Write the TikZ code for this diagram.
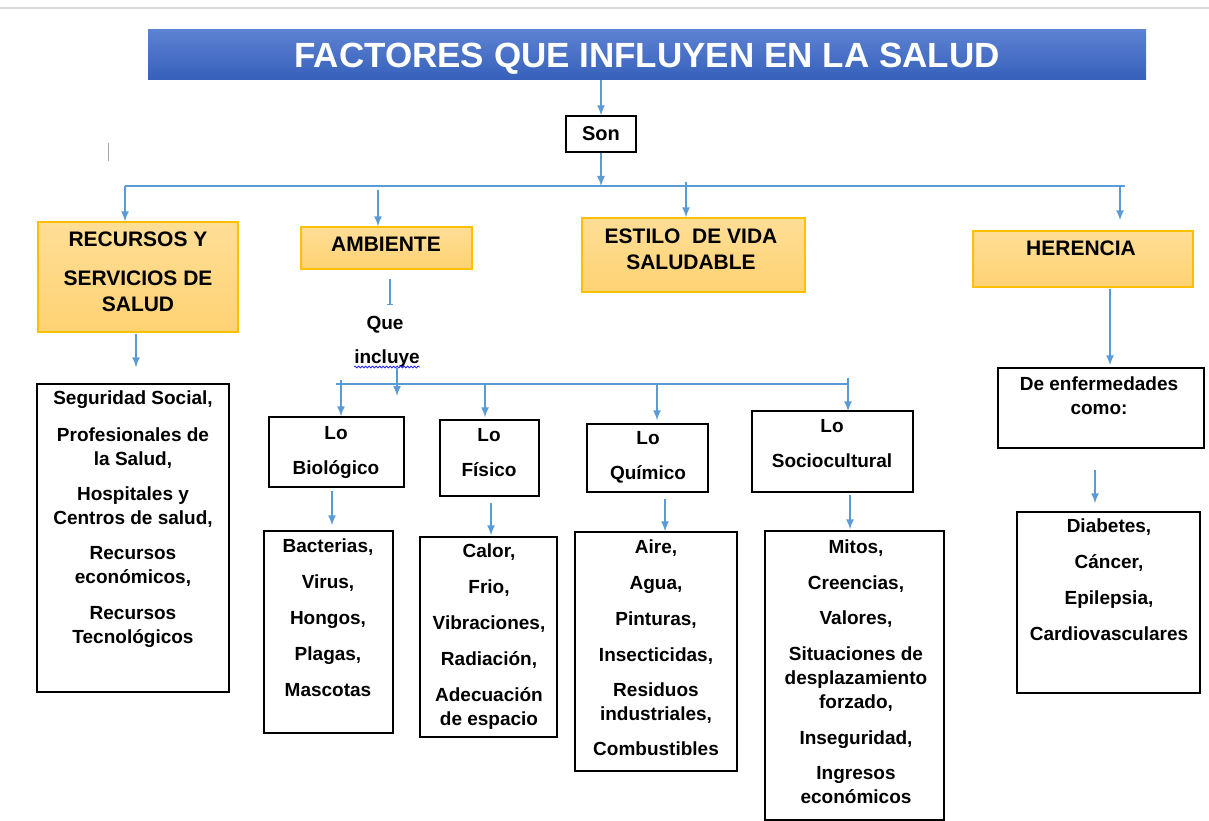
\documentclass[tikz,border=0pt]{standalone}
\usepackage{fontspec}
\setmainfont{Liberation Sans}
\usetikzlibrary{arrows.meta,decorations.pathmorphing}
\definecolor{ablue}{RGB}{91,155,213}
\definecolor{ttop}{RGB}{92,130,210}
\definecolor{tbot}{RGB}{54,96,186}
\definecolor{otop}{RGB}{254,222,150}
\definecolor{obot}{RGB}{255,210,115}
\definecolor{oedge}{RGB}{255,192,0}
\tikzset{
  arr/.style={draw=ablue, line width=1.5pt, -{Latex[length=10pt,width=8pt]}},
  ln/.style={draw=ablue, line width=1.5pt},
  obox/.style={draw=oedge, line width=1.4pt, top color=otop, bottom color=obot, inner sep=0pt},
  kbox/.style={draw=black, line width=1.4pt, fill=white, inner sep=0pt},
  htxt/.style={font=\fontsize{21}{26}\selectfont\bfseries, align=center, inner sep=0pt, anchor=north},
  btxt/.style={font=\fontsize{19}{24}\selectfont\bfseries, align=center, inner sep=0pt, anchor=north},
}
\begin{document}
\begin{tikzpicture}[x=1pt,y=-1pt]
\useasboundingbox (0,0) rectangle (1209,821);
\fill[white] (0,0) rectangle (1209,821);
\draw[gray!30, line width=2pt] (0,8) -- (1209,8);
\draw[gray!70, line width=1pt] (108,143) -- (108,161);

% title
\node[top color=ttop, bottom color=tbot, minimum width=998pt, minimum height=50pt, inner sep=0pt] (title) at (647,55) {};
\node[text=white, font=\fontsize{35}{40}\selectfont\bfseries, inner sep=0pt, anchor=base] (titleT) at (647,67.5) {FACTORES QUE INFLUYEN EN LA SALUD};
\node[kbox, minimum width=70pt, minimum height=36pt, font=\fontsize{20}{24}\selectfont\bfseries] (son) at (601,134) {Son};

% level 1 boxes
\node[obox, minimum width=200pt, minimum height=110pt] (rec) at (138,277) {};
\node[obox, minimum width=171pt, minimum height=42pt] (amb) at (386.5,248) {};
\node[obox, minimum width=223pt, minimum height=74pt] (est) at (693.5,255) {};
\node[obox, minimum width=220pt, minimum height=56pt] (her) at (1083,259) {};
\node[htxt] (recT) at (138,231.5) {RECURSOS Y\\[13pt]SERVICIOS DE\\SALUD};
\node[htxt] (ambT) at (386,236.5) {AMBIENTE};
\node[htxt] (estT) at (691,228.5) {ESTILO\ \ DE VIDA\\SALUDABLE};
\node[htxt] (herT) at (1081,240.5) {HERENCIA};

% level 2 boxes
\node[kbox, minimum width=192pt, minimum height=308pt] (seg) at (133,538) {};
\node[btxt] (segT) at (133,391) {Seguridad Social,\\[13pt]Profesionales de\\la Salud,\\[11pt]Hospitales y\\Centros de salud,\\[11pt]Recursos\\económicos,\\[12pt]Recursos\\Tecnológicos};

\node[font=\fontsize{19}{24}\selectfont\bfseries, inner sep=0pt, anchor=base] (que) at (385,329) {Que};
\node[font=\fontsize{19}{24}\selectfont\bfseries, inner sep=0pt, anchor=base] (incl) at (387,363) {incluye};

\node[kbox, minimum width=135pt, minimum height=70pt] (bio) at (336.5,452) {};
\node[kbox, minimum width=99pt, minimum height=76pt] (fis) at (489.5,458) {};
\node[kbox, minimum width=121pt, minimum height=68pt] (qui) at (647.5,458) {};
\node[kbox, minimum width=161pt, minimum height=81pt] (soc) at (832.5,451.5) {};
\node[btxt] (bioT) at (336,426) {Lo\\[11pt]Biológico};
\node[btxt] (fisT) at (489,428) {Lo\\[11pt]Físico};
\node[btxt] (quiT) at (648,431) {Lo\\[11pt]Químico};
\node[btxt] (socT) at (832,419) {Lo\\[11pt]Sociocultural};

\node[kbox, minimum width=129pt, minimum height=202pt] (bac) at (328.5,632) {};
\node[kbox, minimum width=137pt, minimum height=200pt] (cal) at (488.5,637) {};
\node[kbox, minimum width=162pt, minimum height=239pt] (air) at (656,651.5) {};
\node[kbox, minimum width=179pt, minimum height=289pt] (mit) at (854.5,675.5) {};
\node[btxt] (bacT) at (328,539) {Bacterias,\\[12pt]Virus,\\[12pt]Hongos,\\[12pt]Plagas,\\[12pt]Mascotas};
\node[btxt] (calT) at (489,544) {Calor,\\[12pt]Frio,\\[12pt]Vibraciones,\\[12pt]Radiación,\\[12pt]Adecuación\\de espacio};
\node[btxt] (airT) at (656,540) {Aire,\\[12pt]Agua,\\[12pt]Pinturas,\\[12pt]Insecticidas,\\[11pt]Residuos\\industriales,\\[11pt]Combustibles};
\node[btxt] (mitT) at (856,540) {Mitos,\\[12pt]Creencias,\\[11pt]Valores,\\[12pt]Situaciones de\\desplazamiento\\forzado,\\[12pt]Inseguridad,\\[11pt]Ingresos\\económicos};

\node[kbox, minimum width=206pt, minimum height=80pt] (enf) at (1101,408) {};
\node[btxt] (enfT) at (1099,377) {De enfermedades\\como:};
\node[kbox, minimum width=183pt, minimum height=181pt] (dia) at (1108.5,602.5) {};
\node[btxt] (diaT) at (1109,519) {Diabetes,\\[12pt]Cáncer,\\[12pt]Epilepsia,\\[12pt]Cardiovasculares};

% spell-check underline
\draw[draw=blue!85, line width=0.8pt, decorate, decoration={snake, amplitude=0.9pt, segment length=3.5pt}]
  ([yshift=-4pt]incl.base west) -- ([yshift=-4pt]incl.base east);

% connectors top
\coordinate (barL) at (125,186);
\coordinate (barR) at (1125,186);
\coordinate (b2) at (378,190);
\coordinate (b3) at (686,182);
\coordinate (b4) at (1120,186);
\draw[arr] (title.south -| son.north) -- (son.north);
\draw[arr] (son.south) -- (son.south |- barL);
\draw[ln] (barL) -- (barR);
\draw[arr] (barL) -- (barL |- rec.north);
\draw[arr] (b2) -- (b2 |- amb.north);
\draw[arr] (b3) -- (b3 |- est.north);
\draw[arr, shorten >=10pt] (b4) -- (b4 |- her.north);

\draw[arr, shorten <=1pt, shorten >=16pt] ([xshift=-2pt]rec.south) -- ([xshift=-2pt]rec.south |- seg.north);
\coordinate (queTop) at (390,305);
\draw[ln, -{Bar[width=6pt]}, shorten <=9pt] (amb.south -| queTop) -- (queTop);

% ambiente bar
\coordinate (c0) at (336,384);
\coordinate (c1) at (341,380);
\coordinate (c2) at (485,384);
\coordinate (c3) at (657,384);
\coordinate (c4) at (848,378);
\coordinate (c5) at (848,384);
\coordinate (inclEnd) at (397,396);
\draw[arr] ([yshift=-5pt]incl.base -| inclEnd) -- (inclEnd);
\draw[ln] (c0) -- (c5);
\draw[arr] (c1) -- (c1 |- bio.north);
\draw[arr, shorten >=2pt] (c2) -- (c2 |- fis.north);
\draw[arr, shorten >=3pt] (c3) -- (c3 |- qui.north);
\draw[arr, shorten >=-1pt] (c4) -- (c4 |- soc.north);

\draw[arr, shorten <=3pt, shorten >=5pt] ([xshift=-4.5pt]bio.south) -- ([xshift=-4.5pt]bio.south |- bac.north);
\draw[arr, shorten <=6pt, shorten >=1pt] ([xshift=1.5pt]fis.south) -- ([xshift=1.5pt]fis.south |- cal.north);
\draw[arr, shorten <=6pt] ([xshift=17.5pt]qui.south) -- ([xshift=17.5pt]qui.south |- air.north);
\draw[arr, shorten <=2pt, shorten >=1pt] ([xshift=17.5pt]soc.south) -- ([xshift=17.5pt]soc.south |- mit.north);

\draw[arr, shorten <=1pt, shorten >=2pt] ([xshift=27pt]her.south) -- ([xshift=27pt]her.south |- enf.north);
\draw[arr, shorten <=21pt, shorten >=8pt] ([xshift=-6pt]enf.south) -- ([xshift=-6pt]enf.south |- dia.north);
\end{tikzpicture}
\end{document}
